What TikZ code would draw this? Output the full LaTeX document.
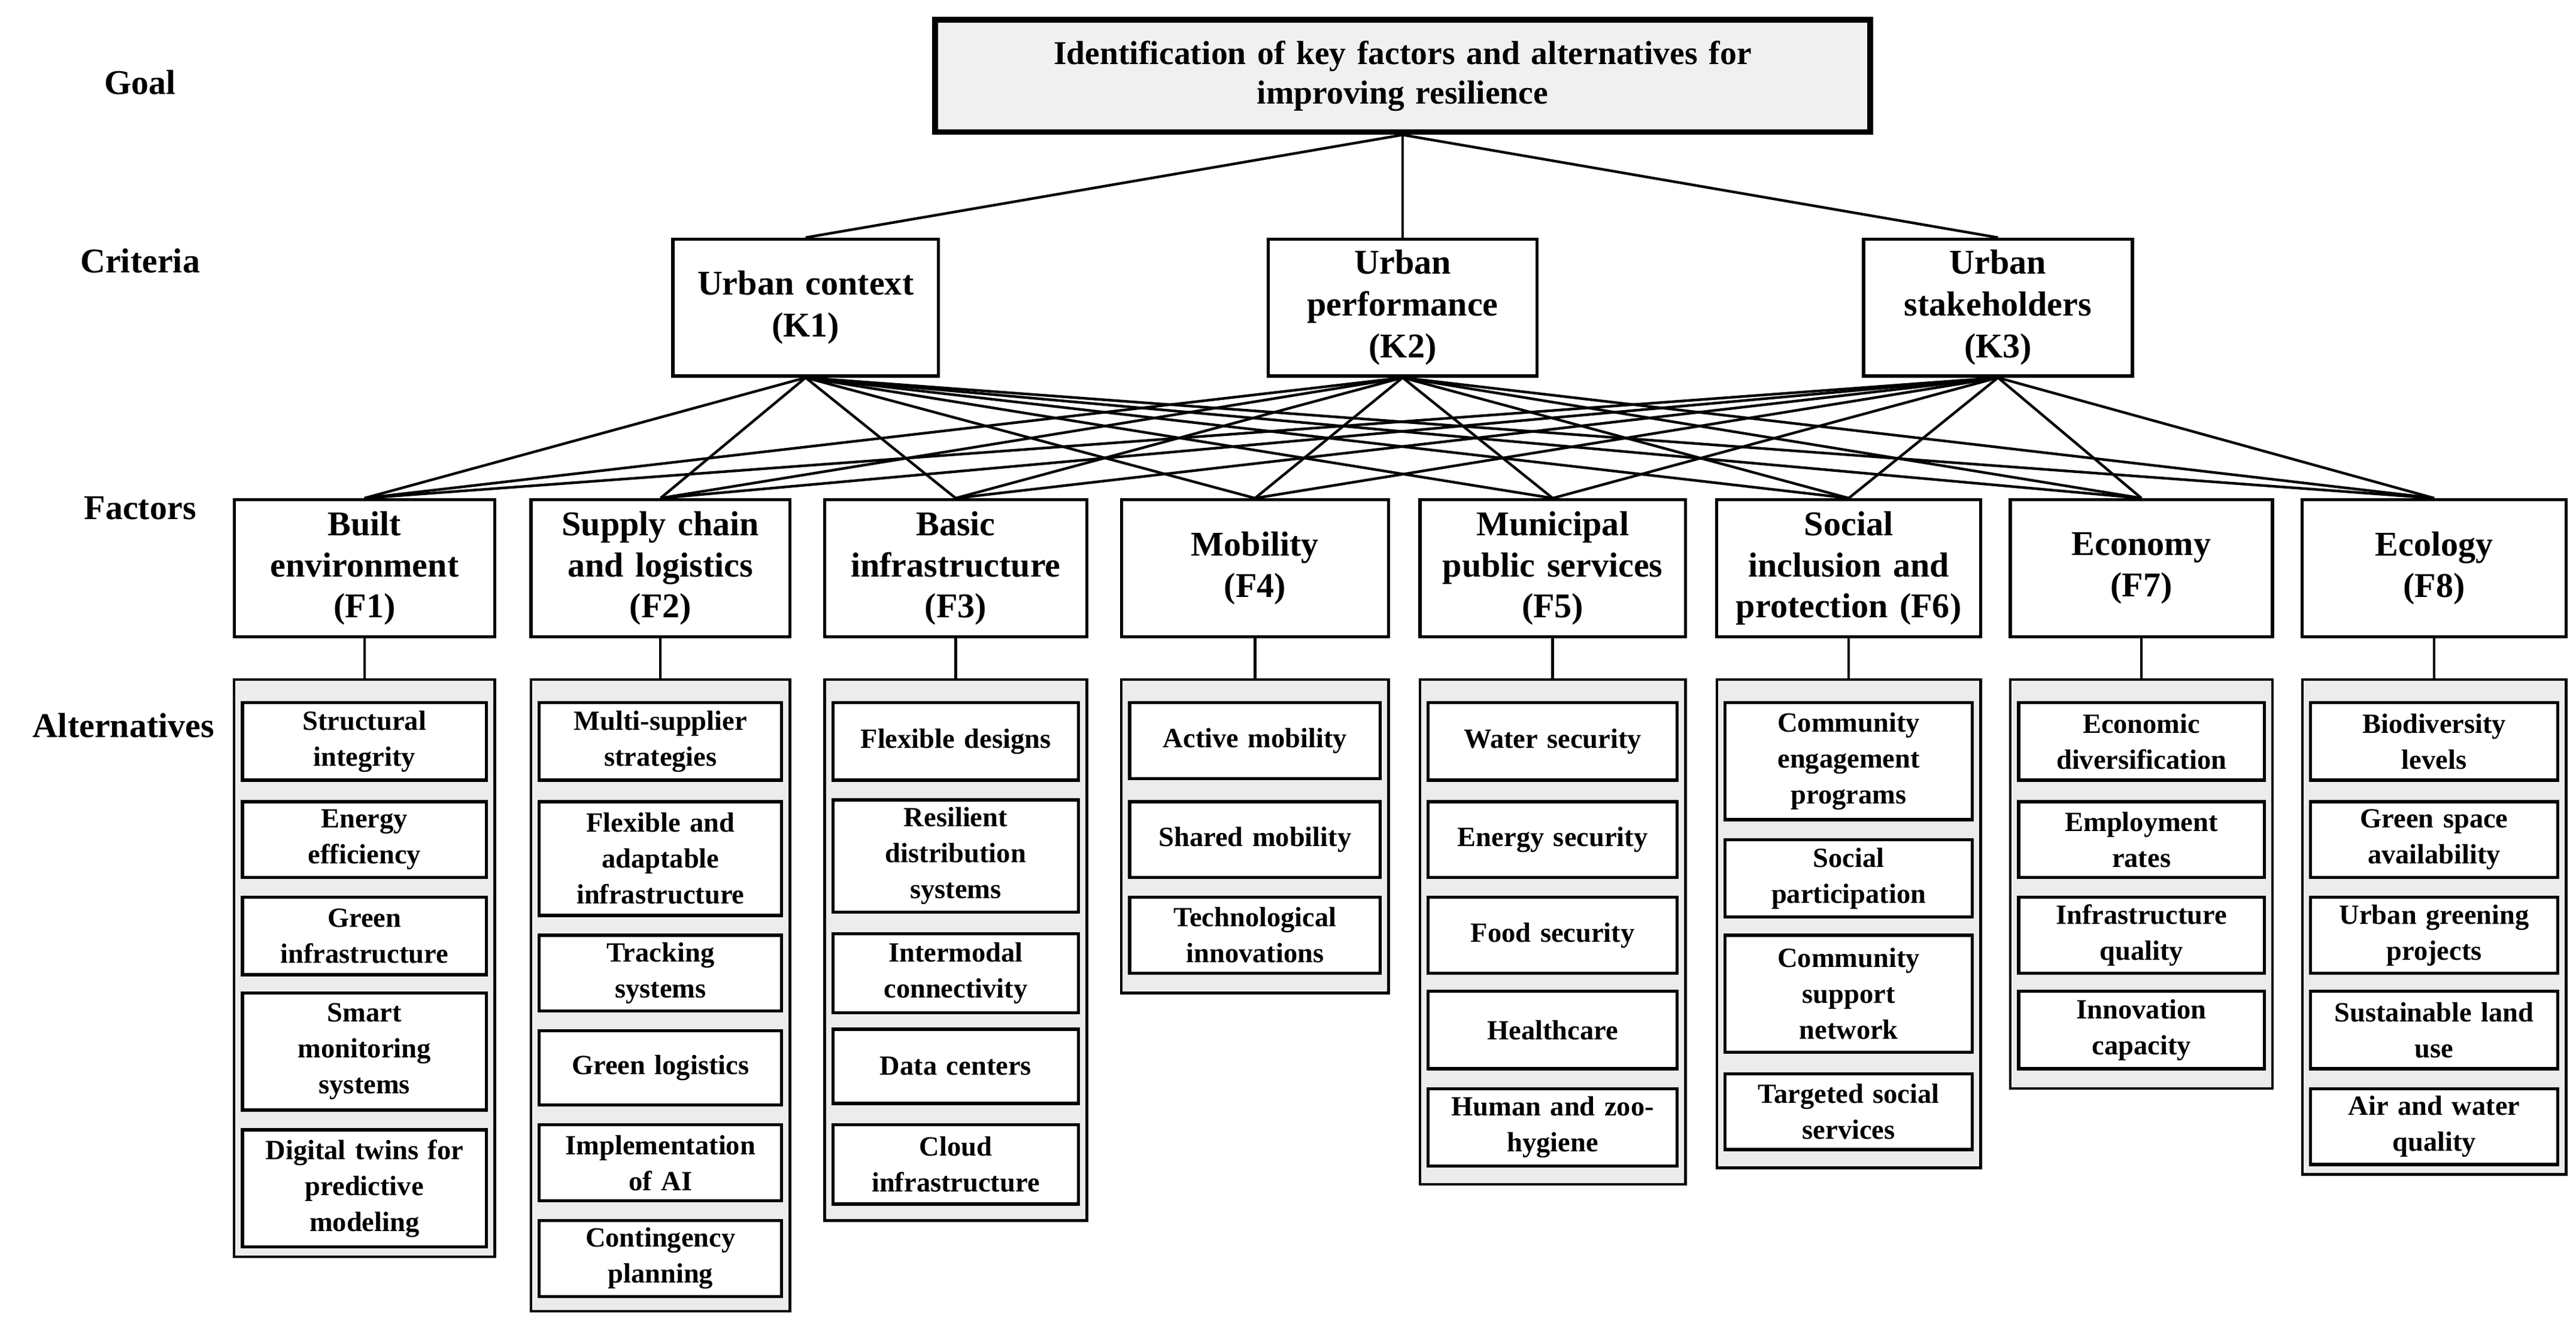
\documentclass[tikz,border=0pt]{standalone}
\usepackage{fontspec}
\setmainfont{Liberation Serif}
\begin{document}
\begin{tikzpicture}[x=0.02cm,y=-0.02cm,
  base/.style={draw,line width=1.1pt,align=center,inner sep=1pt,font=\bfseries},
  goal/.style={base,fill=gray!12,line width=2pt,font=\bfseries\fontsize{11.5}{13.6}\selectfont},
  crit/.style={base,fill=white,font=\bfseries\fontsize{12}{14.5}\selectfont},
  fac/.style={base,fill=white,font=\bfseries\fontsize{12}{14.2}\selectfont},
  grp/.style={draw,line width=0.9pt,fill=gray!15,inner sep=0pt},
  alt/.style={base,fill=white,font=\bfseries\fontsize{9.6}{12.4}\selectfont},
  lbl/.style={font=\bfseries\fontsize{12}{14}\selectfont},
  ln/.style={line width=0.9pt}]
\useasboundingbox (0,0) rectangle (1562,805);
\newcommand\bx[7]{\node[#1,minimum width={(#4-#3)*0.02cm},minimum height={(#6-#5)*0.02cm},text width={(#4-#3-10)*0.02cm}] (#2) at ({(#3+#4)/2},{(#5+#6)/2}) {#7};}
\newcommand\gp[5]{\node[grp,minimum width={(#3-#2)*0.02cm},minimum height={(#5-#4)*0.02cm}] (#1) at ({(#2+#3)/2},{(#4+#5)/2}) {};}
% labels
\node[lbl] (lg) at (85,50) {Goal};
\node[lbl] (lc) at (85,158) {Criteria};
\node[lbl] (lf) at (85,308) {Factors};
\node[lbl] (la) at (75,440) {Alternatives};
% goal
\bx{goal}{G}{567}{1134}{12}{80}{Identification of key factors and alternatives for\\improving resilience}
% criteria
\bx{crit}{K1}{408}{569}{145}{228}{Urban context\\(K1)}
\bx{crit}{K2}{769}{932}{145}{228}{Urban\\performance\\(K2)}
\bx{crit}{K3}{1130}{1293}{145}{228}{Urban\\stakeholders\\(K3)}
\foreach \k in {K1,K2,K3} \draw[ln] (G.south) -- (\k.north);
% factors
\bx{fac}{F1}{142}{300}{303}{386}{Built\\environment\\(F1)}
\bx{fac}{F2}{322}{479}{303}{386}{Supply chain\\and logistics\\(F2)}
\bx{fac}{F3}{500}{659}{303}{386}{Basic\\infrastructure\\(F3)}
\bx{fac}{F4}{680}{842}{303}{386}{Mobility\\(F4)}
\bx{fac}{F5}{861}{1022}{303}{386}{Municipal\\public services\\(F5)}
\bx{fac}{F6}{1041}{1201}{303}{386}{Social\\inclusion and\\protection (F6)}
\bx{fac}{F7}{1219}{1378}{303}{386}{Economy\\(F7)}
\bx{fac}{F8}{1396}{1556}{303}{386}{Ecology\\(F8)}
\begin{scope}[on background layer/.style={}]
\foreach \k in {K1,K2,K3}
  \foreach \f in {F1,F2,F3,F4,F5,F6,F7,F8}
    \draw[ln] (\k.south) -- (\f.north);
\end{scope}
% groups
\gp{A1}{142}{300}{412}{762}
\gp{A2}{322}{479}{412}{795}
\gp{A3}{500}{659}{412}{740}
\gp{A4}{680}{842}{412}{602}
\gp{A5}{861}{1022}{412}{718}
\gp{A6}{1041}{1201}{412}{708}
\gp{A7}{1219}{1378}{412}{660}
\gp{A8}{1396}{1556}{412}{712}
\foreach \i in {1,...,8} \draw[ln] (F\i.south) -- (A\i.north);
% F1
\bx{alt}{a11}{147}{295}{426}{473}{Structural\\integrity}
\bx{alt}{a12}{147}{295}{486}{532}{Energy\\efficiency}
\bx{alt}{a13}{147}{295}{544}{591}{Green\\infrastructure}
\bx{alt}{a14}{147}{295}{602}{673}{Smart\\monitoring\\systems}
\bx{alt}{a15}{147}{295}{685}{756}{Digital twins for\\predictive\\modeling}
% F2
\bx{alt}{a21}{327}{474}{426}{473}{Multi-supplier\\strategies}
\bx{alt}{a22}{327}{474}{486}{555}{Flexible and\\adaptable\\infrastructure}
\bx{alt}{a23}{327}{474}{567}{613}{Tracking\\systems}
\bx{alt}{a24}{327}{474}{625}{670}{Green logistics}
\bx{alt}{a25}{327}{474}{682}{728}{Implementation\\of AI}
\bx{alt}{a26}{327}{474}{740}{786}{Contingency\\planning}
% F3
\bx{alt}{a31}{505}{654}{426}{473}{Flexible designs}
\bx{alt}{a32}{505}{654}{485}{553}{Resilient\\distribution\\systems}
\bx{alt}{a33}{505}{654}{566}{614}{Intermodal\\connectivity}
\bx{alt}{a34}{505}{654}{624}{669}{Data centers}
\bx{alt}{a35}{505}{654}{682}{730}{Cloud\\infrastructure}
% F4
\bx{alt}{a41}{685}{837}{426}{472}{Active mobility}
\bx{alt}{a42}{685}{837}{486}{532}{Shared mobility}
\bx{alt}{a43}{685}{837}{544}{590}{Technological\\innovations}
% F5
\bx{alt}{a51}{866}{1017}{426}{473}{Water security}
\bx{alt}{a52}{866}{1017}{486}{532}{Energy security}
\bx{alt}{a53}{866}{1017}{544}{590}{Food security}
\bx{alt}{a54}{866}{1017}{601}{648}{Healthcare}
\bx{alt}{a55}{866}{1017}{660}{707}{Human and zoo-\\hygiene}
% F6
\bx{alt}{a61}{1046}{1196}{426}{497}{Community\\engagement\\programs}
\bx{alt}{a62}{1046}{1196}{509}{556}{Social\\participation}
\bx{alt}{a63}{1046}{1196}{567}{638}{Community\\support\\network}
\bx{alt}{a64}{1046}{1196}{651}{697}{Targeted social\\services}
% F7
\bx{alt}{a71}{1224}{1373}{426}{473}{Economic\\diversification}
\bx{alt}{a72}{1224}{1373}{486}{532}{Employment\\rates}
\bx{alt}{a73}{1224}{1373}{544}{590}{Infrastructure\\quality}
\bx{alt}{a74}{1224}{1373}{601}{648}{Innovation\\capacity}
% F8
\bx{alt}{a81}{1401}{1551}{426}{473}{Biodiversity\\levels}
\bx{alt}{a82}{1401}{1551}{486}{532}{Green space\\availability}
\bx{alt}{a83}{1401}{1551}{544}{590}{Urban greening\\projects}
\bx{alt}{a84}{1401}{1551}{601}{648}{Sustainable land\\use}
\bx{alt}{a85}{1401}{1551}{660}{706}{Air and water\\quality}
\end{tikzpicture}
\end{document}
